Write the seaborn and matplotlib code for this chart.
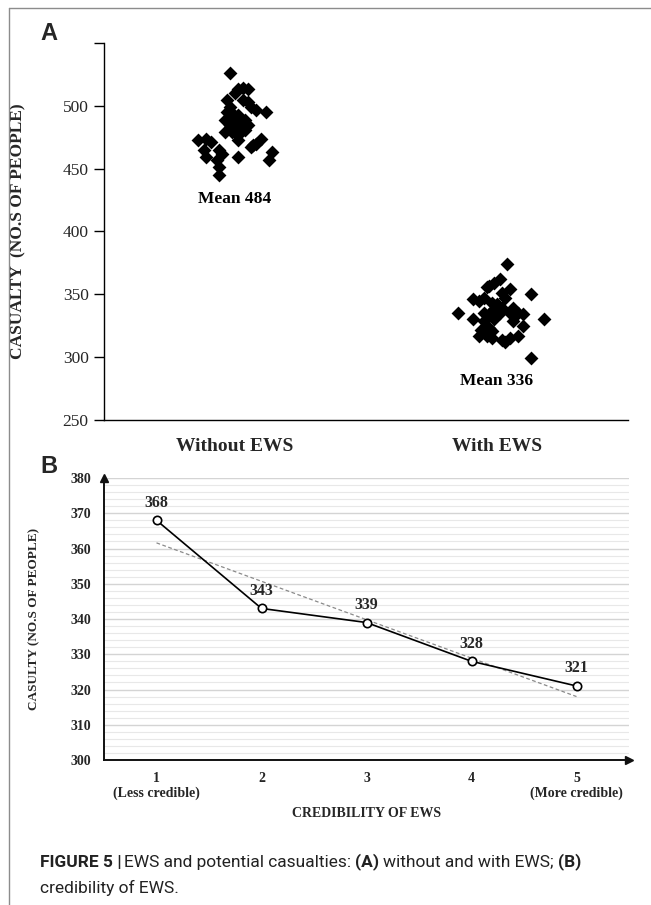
import numpy as np
import pandas as pd
import matplotlib
matplotlib.use("Agg")
import matplotlib.pyplot as plt
import seaborn as sns
from matplotlib.lines import Line2D
from matplotlib.ticker import MultipleLocator

# ---------------- data ----------------
groups = ["Without EWS", "With EWS"]

without_vals = [526, 513, 514, 513, 510, 505, 505, 503, 499, 499, 497, 495, 495, 494,
                493, 489, 489, 489, 485, 485, 485, 482, 481, 479, 477, 473, 479, 473,
                474, 471, 474, 470, 467, 469, 465, 465, 462, 459, 463, 459, 457, 457,
                451, 445]
# horizontal jitter (category units)
without_jit = [-0.02, 0.01, 0.03, 0.05, 0.00, -0.03, 0.03, 0.05, -0.02, 0.06, 0.08, 0.12,
               -0.03, -0.01, 0.01, -0.04, -0.01, 0.04, 0.05, -0.02, 0.01, 0.02, 0.04, -0.01,
               0.01, 0.01, -0.04, -0.14, -0.11, -0.09, 0.10, 0.08, 0.06, 0.07, -0.12, -0.06,
               -0.05, 0.01, 0.14, -0.11, -0.07, 0.13, -0.06, -0.06]

with_vals = [374, 362, 359, 357, 356, 354, 351, 347, 350, 346, 345, 347, 343, 342,
             335, 335, 334, 335, 335, 335, 334, 330, 329, 330, 329, 325, 330, 322,
             323, 321, 317, 317, 315, 314, 315, 317, 299, 339, 339, 312, 338]
with_jit = [0.04, 0.01, -0.01, -0.03, -0.04, 0.05, 0.02, 0.03, 0.13, -0.09, -0.07, -0.05,
            -0.02, 0.00, -0.15, -0.05, -0.03, 0.01, 0.05, 0.08, 0.10, -0.09, -0.05, -0.01,
            0.06, 0.10, 0.18, -0.06, -0.03, -0.02, -0.07, -0.04, -0.02, 0.02, 0.05, 0.08,
            0.13, 0.02, 0.06, 0.03, -0.01]

group_means = [484, 336]
mean_label_y = [426, 281]

cred_levels = [1, 2, 3, 4, 5]
cred_ticklabels = ["1\n(Less credible)", "2", "3", "4", "5\n(More credible)"]
casualties = [368, 343, 339, 328, 321]

# ---------------- figure ----------------
sns.set_theme(style="white")
plt.rcParams["font.family"] = ["Liberation Serif", "DejaVu Serif"]

W, H = 651, 905
fig = plt.figure(figsize=(W / 100, H / 100), dpi=100)
fig.patch.set_facecolor("white")


def fx(px):
    return px / W


def fy(py):
    return 1 - py / H


# page border (left + top)
fig.add_artist(Line2D([fx(9), fx(9)], [fy(8), 0], color="#8c8c8c", lw=1.0))
fig.add_artist(Line2D([fx(9), 1], [fy(8), fy(8)], color="#8c8c8c", lw=1.0))

# ---------------- panel A ----------------
LA, RA, TA, BA = 104, 628, 43, 420
axA = fig.add_axes([fx(LA), fy(BA), (RA - LA) / W, (BA - TA) / H])

dfA = pd.DataFrame({
    "group": [groups[0]] * len(without_vals) + [groups[1]] * len(with_vals),
    "value": without_vals + with_vals,
    "pos": [0 + j for j in without_jit] + [1 + j for j in with_jit],
})
sns.scatterplot(data=dfA, x="pos", y="value", marker="D", color="black",
                edgecolor="black", linewidth=0, s=50, legend=False, ax=axA, zorder=3)

for i, (m, ly) in enumerate(zip(group_means, mean_label_y)):
    axA.text(i, ly, f"Mean {m}", ha="center", va="center", fontsize=12.5,
             fontweight="bold", color="black")

axA.set_xlim(-0.5, 1.5)
axA.set_ylim(250, 550)
axA.set_xticks([0, 1])
axA.set_xticklabels(groups, fontsize=14, fontweight="bold")
yt = list(range(250, 551, 50))
axA.set_yticks(yt)
axA.set_yticklabels([str(v) if v < 550 else "" for v in yt], fontsize=12.5)
axA.tick_params(axis="y", direction="out", length=7, width=1, color="black",
                pad=4, left=True)
axA.tick_params(axis="x", length=0, pad=13)
axA.set_xlabel("")
axA.set_ylabel("CASUALTY  (NO.S OF PEOPLE)", fontsize=12.5, fontweight="bold")
axA.yaxis.set_label_coords((26 - LA) / (RA - LA), 0.5)
for s in ["top", "right"]:
    axA.spines[s].set_visible(False)
for s in ["left", "bottom"]:
    axA.spines[s].set_color("black")
    axA.spines[s].set_linewidth(1.0)
axA.grid(False)

fig.text(fx(40), fy(34), "A", fontsize=17, fontweight="bold",
         family=["Liberation Sans", "DejaVu Sans"], ha="left", va="center")

# ---------------- panel B ----------------
LB, RB, TB, BB = 104, 629, 478, 760
axB = fig.add_axes([fx(LB), fy(BB), (RB - LB) / W, (BB - TB) / H])

axB.set_xlim(0.5, 5.5)
axB.set_ylim(300, 380)
axB.yaxis.set_major_locator(MultipleLocator(10))
axB.yaxis.set_minor_locator(MultipleLocator(2))
axB.grid(which="major", axis="y", color="#d4d4d4", lw=1.0, zorder=0)
axB.grid(which="minor", axis="y", color="#e8e8e8", lw=0.8, zorder=0)
axB.grid(which="both", axis="x", visible=False)

sns.regplot(x=cred_levels, y=casualties, scatter=False, ci=None, truncate=True,
            line_kws=dict(color="#8a8a8a", ls=(0, (3, 2)), lw=0.9, zorder=2), ax=axB)
sns.lineplot(x=cred_levels, y=casualties, color="black", lw=1.2, marker="o",
             markersize=6, markerfacecolor="white", markeredgecolor="black",
             markeredgewidth=1.2, ax=axB, zorder=3)

for x, y in zip(cred_levels, casualties):
    axB.annotate(f"{y}", (x, y), xytext=(0, 7), textcoords="offset points",
                 ha="center", va="bottom", fontsize=11.5, fontweight="bold")

axB.set_xticks(cred_levels)
axB.set_xticklabels(cred_ticklabels, fontsize=10, fontweight="bold",
                    linespacing=1.1)
axB.set_yticks(list(range(300, 381, 10)))
axB.set_yticklabels([str(v) for v in range(300, 381, 10)], fontsize=10,
                    fontweight="bold")
axB.tick_params(axis="both", which="both", length=0)
axB.tick_params(axis="y", pad=9)
axB.tick_params(axis="x", pad=9)
axB.set_xlabel("CREDIBILITY OF EWS", fontsize=10, fontweight="bold", labelpad=5)
axB.set_ylabel("CASULTY (NO.S OF PEOPLE)", fontsize=9.5, fontweight="bold")
axB.yaxis.set_label_coords((40 - LB) / (RB - LB), 0.5)
for s in ["top", "right"]:
    axB.spines[s].set_visible(False)
for s in ["left", "bottom"]:
    axB.spines[s].set_color("#111111")
    axB.spines[s].set_linewidth(1.4)
# arrow heads on the axes
axB.plot(1, 0, ">", color="#111111", markersize=6, transform=axB.transAxes,
         clip_on=False)
axB.plot(0, 1, "^", color="#111111", markersize=6, transform=axB.transAxes,
         clip_on=False)

fig.text(fx(40), fy(466), "B", fontsize=17, fontweight="bold",
         family=["Liberation Sans", "DejaVu Sans"], ha="left", va="center")

# ---------------- caption ----------------
fig.canvas.draw()
renderer = fig.canvas.get_renderer()
cap_family = ["Liberation Sans Narrow", "Roboto", "DejaVu Sans"]
cap_size = 12.5
line1 = [("FIGURE 5 |", "bold"), ("EWS and potential casualties:", "normal"),
         ("(A)", "bold"), ("without and with EWS;", "normal"), ("(B)", "bold")]
gaps = [2, 4, 4, 4]
x = 40
y1 = fy(862)
for k, (txt, wt) in enumerate(line1):
    t = fig.text(fx(x), y1, txt, fontsize=cap_size, fontweight=wt, family=cap_family,
                 ha="left", va="center", color="#222222")
    bb = t.get_window_extent(renderer=renderer)
    x += bb.width + (gaps[k] if k < len(gaps) else 0)
fig.text(fx(40), fy(888), "credibility of EWS.", fontsize=cap_size, family=cap_family,
         ha="left", va="center", color="#222222")

fig.savefig("out.png", dpi=100, facecolor="white")
